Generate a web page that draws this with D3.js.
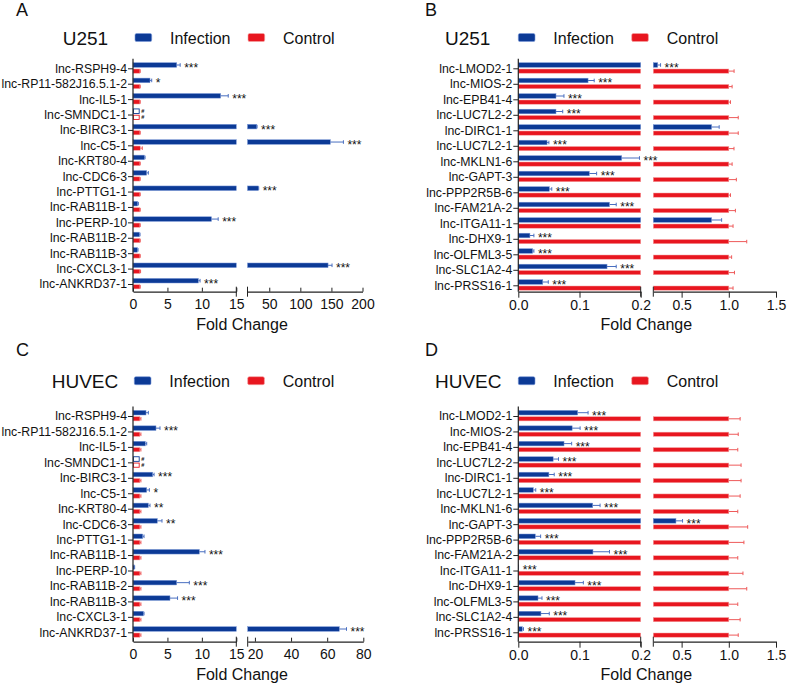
<!DOCTYPE html>
<html>
<head>
<meta charset="utf-8">
<script src="https://cdn.jsdelivr.net/npm/d3@7"></script>
<style>
  body { margin: 0; background: #fff; }
  svg text { font-family: "Liberation Sans", Arial, sans-serif; fill: #111; }
</style>
</head>
<body>
<div class="canvas"></div>
<script>
// gene lists
const genesAC = ["lnc-RSPH9-4", "lnc-RP11-582J16.5.1-2", "lnc-IL5-1", "lnc-SMNDC1-1", "lnc-BIRC3-1",
  "lnc-C5-1", "lnc-KRT80-4", "lnc-CDC6-3", "lnc-PTTG1-1", "lnc-RAB11B-1", "lnc-PERP-10",
  "lnc-RAB11B-2", "lnc-RAB11B-3", "lnc-CXCL3-1", "lnc-ANKRD37-1"];
const genesBD = ["lnc-LMOD2-1", "lnc-MIOS-2", "lnc-EPB41-4", "lnc-LUC7L2-2", "lnc-DIRC1-1",
  "lnc-LUC7L2-1", "lnc-MKLN1-6", "lnc-GAPT-3", "lnc-PPP2R5B-6", "lnc-FAM21A-2", "lnc-ITGA11-1",
  "lnc-DHX9-1", "lnc-OLFML3-5", "lnc-SLC1A2-4", "lnc-PRSS16-1"];
const hollowGenes = ["lnc-SMNDC1-1"];

// A: U251 up-regulated
const infA = [6.35, 2.47, 12.73, 0.9, 29.9, 148.3, 1.65, 1.98, 32.5, 0.68, 11.4, 0.92, 0.63, 144.6, 9.49];
const infErrA = [0.5, 0.25, 1.1, 0, 0.5, 21, 0.1, 0.25, 0.5, 0.1, 0.97, 0.1, 0.1, 6.4, 0.25];
const ctrlA = [1, 1, 1, 0.9, 1, 1.05, 1, 1, 1, 1, 1, 1, 1, 1, 1];
const ctrlErrA = [0.05, 0.05, 0.05, 0, 0.05, 0.3, 0.05, 0.05, 0.05, 0.05, 0.05, 0.05, 0.05, 0.1, 0.05];
const sigA = ["***", "*", "***", "#", "***", "***", "", "", "***", "", "***", "", "", "***", "***"];

// B: U251 down-regulated
const infB = [0.247, 0.114, 0.0616, 0.0616, 0.818, 0.047, 0.169, 0.116, 0.0507, 0.149, 0.818, 0.019, 0.0235, 0.145, 0.04];
const infErrB = [0.03, 0.01, 0.013, 0.011, 0.08, 0.003, 0.029, 0.012, 0.004, 0.011, 0.106, 0.0065, 0.002, 0.015, 0.009];
const ctrlB = [1, 1, 1, 1, 1, 1, 1, 1, 1, 1, 1, 1, 1, 1, 1];
const ctrlErrB = [0.056, 0.035, 0.018, 0.1, 0.1, 0.055, 0.035, 0.08, 0.018, 0.07, 0.045, 0.19, 0.03, 0.06, 0.045];
const sigB = ["***", "***", "***", "***", "", "***", "***", "***", "***", "***", "", "***", "***", "***", "***"];

// C: HUVEC up-regulated
const infC = [1.89, 3.34, 1.79, 0.9, 2.86, 1.99, 2.23, 3.53, 1.41, 9.63, 0.19, 6.34, 5.37, 1.5, 66.7];
const infErrC = [0.34, 0.58, 0.2, 0, 0.2, 0.39, 0.24, 0.68, 0.19, 0.82, 0.05, 1.84, 1.1, 0.1, 4];
const ctrlC = [1, 1, 1, 0.9, 1, 1, 1, 1, 1, 1, 1, 1, 1, 1, 1];
const ctrlErrC = [0.15, 0.15, 0.15, 0, 0.15, 0.15, 0.15, 0.15, 0.15, 0.15, 0.15, 0.15, 0.15, 0.15, 0.15];
const sigC = ["", "***", "", "#", "***", "*", "**", "**", "", "***", "", "***", "***", "", "***"];

// D: HUVEC down-regulated
const infD = [0.097, 0.088, 0.0747, 0.057, 0.05, 0.0245, 0.1216, 0.44, 0.0278, 0.122, 0.0008, 0.0927, 0.0322, 0.037, 0.0065];
const infErrD = [0.017, 0.013, 0.0125, 0.0087, 0.0087, 0.004, 0.012, 0.07, 0.0087, 0.027, 0, 0.0136, 0.0065, 0.0136, 0.002];
const ctrlD = [1, 1, 1, 1, 1, 1, 1, 1, 1, 1, 1, 1, 1, 1, 1];
const ctrlErrD = [0.12, 0.1, 0.095, 0.13, 0.13, 0.12, 0.095, 0.2, 0.16, 0.095, 0.15, 0.19, 0.095, 0.12, 0.1];
const sigD = ["***", "***", "***", "***", "***", "***", "***", "***", "***", "***", "***", "***", "***", "***", "***"];

// axis ticks
const ticksUpLeft = [0, 5, 10, 15];
const ticksUpRightA = [50, 100, 150, 200];
const ticksUpRightC = [20, 40, 60, 80];
const ticksDownLeft = [0, 0.1, 0.2];
const ticksDownRight = [0.5, 1.0, 1.5];

const blue = "#0c3a96", blueLine = "#7b98d8";
const red = "#e8161f", redLine = "#f5a3a3";

const svg = d3.select(".canvas").append("svg")
  .attr("width", 787).attr("height", 684);

function drawPanel(p) {
  const g = svg.append("g");
  const y = d3.scalePoint().domain(p.genes).range([p.rowTop, p.rowBottom]);
  const xl = d3.scaleLinear().domain(p.leftDomain).range([p.x0, p.breakL]);
  const xr = d3.scaleLinear().domain(p.rightDomain).range([p.breakR, p.xEnd]);
  const lim = p.leftDomain[1];
  const px = v => v <= lim ? xl(v) : xr(v);

  // panel letter + legend
  g.append("text").attr("x", p.letterX).attr("y", p.letterY).attr("font-size", 18).text(p.letter);
  g.append("text").attr("x", p.titleX).attr("y", p.legY + 7.5).attr("font-size", 19).text(p.title);
  g.append("rect").attr("x", p.legBlue).attr("y", p.legY - 4).attr("width", 16.7).attr("height", 8)
    .attr("rx", 1.5).attr("fill", blue).attr("stroke", blueLine).attr("stroke-width", 0.6);
  g.append("text").attr("x", p.legBlue + 35).attr("y", p.legY + 6.5).attr("font-size", 16).text("Infection");
  g.append("rect").attr("x", p.legRed).attr("y", p.legY - 4).attr("width", 16.7).attr("height", 8)
    .attr("rx", 1.5).attr("fill", red).attr("stroke", redLine).attr("stroke-width", 0.6);
  g.append("text").attr("x", p.legRed + 35).attr("y", p.legY + 6.5).attr("font-size", 16).text("Control");

  // bars
  const series = [
    { vals: p.inf, errs: p.infErr, col: blue, edge: blueLine, errCol: "#4a6fc0", dy: -5.6, h: 4.6 },
    { vals: p.ctrl, errs: p.ctrlErr, col: red, edge: redLine, errCol: "#ee5a5a", dy: 0.7, h: 4.2 }
  ];
  series.forEach(s => {
    p.genes.forEach((gene, i) => {
      const v = s.vals[i], e = s.errs[i];
      const top = y(gene) + s.dy;
      const cy = top + s.h / 2;
      if (hollowGenes.includes(gene)) {
        g.append("rect").attr("x", xl(0) + 0.5).attr("y", top).attr("width", xl(v) - xl(0) - 0.5)
          .attr("height", s.h).attr("fill", "#fff").attr("stroke", s.col).attr("stroke-width", 0.9);
        g.append("text").attr("x", xl(v) + 2).attr("y", cy + 2).attr("font-size", 5.6)
          .attr("font-weight", "bold").text("#");
        return;
      }
      const segs = v <= lim ? [[xl(0), xl(v)]] : [[xl(0), p.breakL], [p.breakR, xr(v)]];
      segs.forEach(sg => {
        g.append("rect").attr("x", sg[0]).attr("y", top).attr("width", Math.max(0, sg[1] - sg[0]))
          .attr("height", s.h).attr("fill", s.col).attr("stroke", s.edge).attr("stroke-width", 0.5);
      });
      if (e > 0) {
        const x1 = px(v), x2 = px(v + e);
        g.append("line").attr("x1", x1).attr("x2", x2).attr("y1", cy).attr("y2", cy)
          .attr("stroke", s.errCol).attr("stroke-width", 1);
        g.append("line").attr("x1", x2).attr("x2", x2).attr("y1", cy - 1.8).attr("y2", cy + 1.8)
          .attr("stroke", s.errCol).attr("stroke-width", 1);
      }
    });
  });

  // significance stars
  p.genes.forEach((gene, i) => {
    const s = p.sig[i];
    if (!s || s === "#") return;
    const xe = px(p.inf[i] + p.infErr[i]);
    g.append("text").attr("x", xe + 4).attr("y", y(gene) + 3.6).attr("font-size", 12).text(s);
  });

  // y axis
  const ya = g.append("g").attr("transform", `translate(${p.x0},0)`)
    .call(d3.axisLeft(y).tickSize(5).tickPadding(1).tickSizeOuter(0));
  ya.select(".domain").remove();
  ya.selectAll("text").attr("font-size", 12.3).attr("font-family", "Liberation Sans, Arial, sans-serif");
  ya.selectAll("line").attr("stroke", "#222");
  g.append("line").attr("x1", p.x0).attr("x2", p.x0).attr("y1", p.rowTop - 9.5).attr("y2", p.axisY)
    .attr("stroke", "#222").attr("stroke-width", 1.2);

  // x axis, two segments
  const fmt = p.fmt;
  const tickSz = p.ticksUp ? -4 : 6;
  const pad = p.ticksUp ? 7 : 2;
  [[xl, p.leftTicks], [xr, p.rightTicks]].forEach(([sc, tv]) => {
    const ax = g.append("g").attr("transform", `translate(0,${p.axisY})`)
      .call(d3.axisBottom(sc).tickValues(tv).tickFormat(fmt).tickSize(tickSz).tickPadding(pad).tickSizeOuter(0));
    ax.selectAll("text").attr("font-size", 14).attr("font-family", "Liberation Sans, Arial, sans-serif");
    ax.selectAll("line").attr("stroke", "#222");
    ax.select(".domain").attr("stroke", "#222").attr("stroke-width", 1.2);
  });
  [p.breakL, p.breakR].forEach(xb => {
    g.append("line").attr("x1", xb).attr("x2", xb).attr("y1", p.axisY - 5).attr("y2", p.axisY + 5)
      .attr("stroke", "#222").attr("stroke-width", 1);
  });
  g.append("text").attr("x", p.labelX).attr("y", p.axisY + 38.5).attr("text-anchor", "middle")
    .attr("font-size", 16).text("Fold Change");
}

const leftCommon = { x0: 133, breakL: 236.3, breakR: 247.5, xEnd: 362.5, leftDomain: [0, 15],
  leftTicks: ticksUpLeft, fmt: d3.format("d"), ticksUp: true, labelX: 242, letterX: 16,
  legBlue: 135, legRed: 248 };
const rightCommon = { x0: 518.3, breakL: 640.7, breakR: 653.3, xEnd: 776, leftDomain: [0, 0.2],
  rightDomain: [0.2, 1.5], leftTicks: ticksDownLeft, rightTicks: ticksDownRight, fmt: d3.format(".1f"),
  ticksUp: false, labelX: 646.3, letterX: 425, legBlue: 518.3, legRed: 631.7 };

drawPanel(Object.assign({}, leftCommon, {
  letter: "A", letterY: 16, title: "U251", titleX: 62.7, legY: 37.5,
  genes: genesAC, inf: infA, infErr: infErrA, ctrl: ctrlA, ctrlErr: ctrlErrA, sig: sigA,
  rowTop: 68.3, rowBottom: 284, axisY: 291.7, rightDomain: [15, 200], rightTicks: ticksUpRightA
}));
drawPanel(Object.assign({}, rightCommon, {
  letter: "B", letterY: 16, title: "U251", titleX: 445, legY: 37.5,
  genes: genesBD, inf: infB, infErr: infErrB, ctrl: ctrlB, ctrlErr: ctrlErrB, sig: sigB,
  rowTop: 68.3, rowBottom: 285.3, axisY: 291.7
}));
drawPanel(Object.assign({}, leftCommon, {
  letter: "C", letterY: 356, title: "HUVEC", titleX: 51.7, legY: 380.7, legBlue: 134.3, legRed: 247.7,
  genes: genesAC, inf: infC, infErr: infErrC, ctrl: ctrlC, ctrlErr: ctrlErrC, sig: sigC,
  rowTop: 416, rowBottom: 632.3, axisY: 641.7, breakR: 247.7, xEnd: 363.3,
  rightDomain: [16, 80], rightTicks: ticksUpRightC
}));
drawPanel(Object.assign({}, rightCommon, {
  letter: "D", letterY: 356, title: "HUVEC", titleX: 435, legY: 380.7,
  genes: genesBD, inf: infD, infErr: infErrD, ctrl: ctrlD, ctrlErr: ctrlErrD, sig: sigD,
  rowTop: 416, rowBottom: 632.3, axisY: 641.7
}));
</script>
</body>
</html>
